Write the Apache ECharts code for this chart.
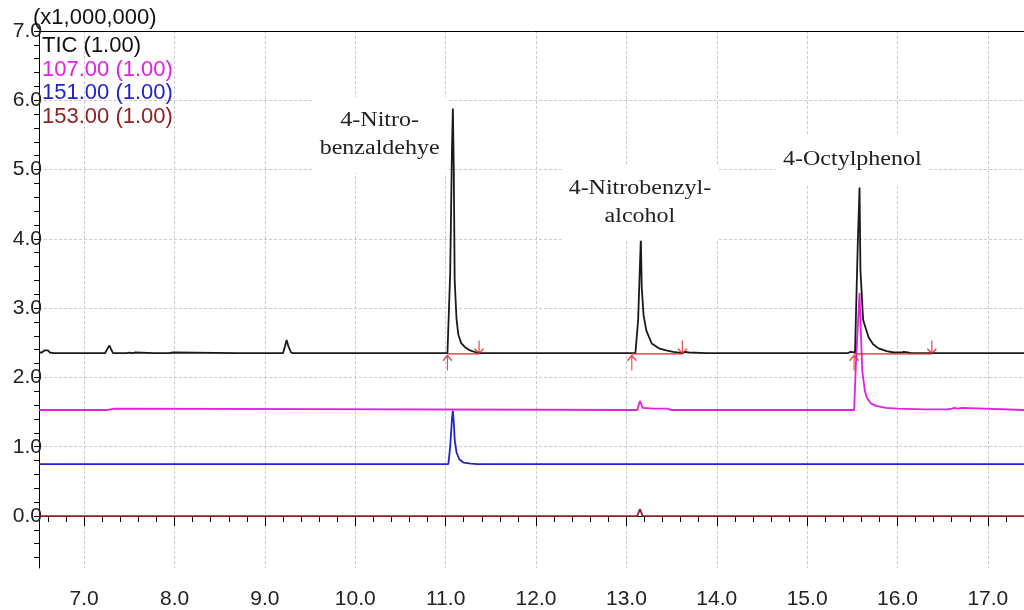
<!DOCTYPE html>
<html>
<head>
<meta charset="utf-8">
<script src="https://cdn.jsdelivr.net/npm/echarts@6.0.0/dist/echarts.min.js"></script>
<style>
html, body { margin: 0; padding: 0; background: #fff; }
#chart { width: 1024px; height: 610px; }
</style>
</head>
<body>
<div id="chart"></div>
<script>
// retention time (min), intensity (x1,000,000) with offset baselines
const ticTrace = [
  [6.5, 2.36], [6.53, 2.36], [6.56, 2.39], [6.58, 2.37], [6.6, 2.39], [6.62, 2.36], [6.64, 2.38], [6.66, 2.35],
  [6.98, 2.35], [7.0, 2.37], [7.02, 2.35],
  [7.23, 2.35], [7.26, 2.42], [7.28, 2.46], [7.3, 2.4], [7.32, 2.35],
  [7.44, 2.35], [7.45, 2.37], [7.47, 2.35], [7.5, 2.36], [7.53, 2.35], [7.56, 2.36], [7.58, 2.35],
  [7.78, 2.35], [7.8, 2.37], [7.82, 2.35], [7.94, 2.35], [7.96, 2.37], [7.98, 2.36], [8.0, 2.35],
  [8.7, 2.35], [8.72, 2.36], [8.74, 2.35],
  [9.2, 2.35], [9.22, 2.44], [9.24, 2.54], [9.26, 2.45], [9.29, 2.36], [9.32, 2.35],
  [10.41, 2.35], [10.43, 2.37], [10.45, 2.35],
  [11.02, 2.35], [11.05, 3.5], [11.07, 5.3], [11.08, 5.88], [11.09, 5.0], [11.1, 3.4], [11.12, 2.85],
  [11.14, 2.62], [11.17, 2.5], [11.21, 2.44], [11.27, 2.39], [11.34, 2.36], [11.4, 2.35],
  [11.56, 2.35], [11.58, 2.37], [11.6, 2.35],
  [13.1, 2.35], [13.13, 2.83], [13.16, 4.01], [13.17, 3.3], [13.19, 2.9], [13.22, 2.68], [13.28, 2.49],
  [13.36, 2.42], [13.44, 2.39], [13.52, 2.37], [13.62, 2.35], [13.65, 2.37], [13.67, 2.35], [13.69, 2.36], [13.71, 2.35],
  [13.89, 2.35], [13.91, 2.37], [13.93, 2.35],
  [15.45, 2.35], [15.48, 2.37], [15.5, 2.35], [15.53, 2.36], [15.56, 3.9], [15.58, 4.74], [15.59, 3.55],
  [15.62, 2.83], [15.68, 2.58], [15.73, 2.48], [15.79, 2.42], [15.88, 2.38], [15.96, 2.36], [16.04, 2.36],
  [16.07, 2.37], [16.09, 2.35], [16.12, 2.36], [16.15, 2.35],
  [17.4, 2.35],
]
const mz107 = [
  [6.5, 1.53], [7.24, 1.53], [7.25, 1.55], [7.34, 1.55], [7.35, 1.53],
  [13.12, 1.53], [13.15, 1.66], [13.18, 1.56], [13.3, 1.55], [13.45, 1.55], [13.47, 1.54], [13.5, 1.53],
  [15.52, 1.53], [15.54, 2.2], [15.58, 3.22], [15.59, 2.83], [15.61, 2.1], [15.64, 1.8], [15.66, 1.71],
  [15.7, 1.63], [15.76, 1.59], [15.87, 1.56], [16.0, 1.55], [16.3, 1.54], [16.55, 1.54], [16.57, 1.56],
  [16.6, 1.55], [16.63, 1.56], [16.67, 1.55], [16.71, 1.56], [16.73, 1.54], [17.4, 1.53],
]
const mz151 = [
  [6.5, 0.75], [11.03, 0.75], [11.05, 1.0], [11.07, 1.4], [11.08, 1.52], [11.09, 1.35], [11.1, 1.1],
  [11.12, 0.92], [11.15, 0.82], [11.2, 0.77], [11.28, 0.755], [11.35, 0.75], [17.4, 0.75],
]
const mz153 = [
  [6.5, 0], [13.12, 0], [13.15, 0.1], [13.18, 0], [17.4, 0],
]

// integration marks on TIC
const peakStart = [11.02, 13.06, 15.52]
const peakEnd = [11.37, 13.62, 16.38]
const ticBase = 2.34

// peak names: time, height, text
const annotations = [
  [10.27, 5.5, '4-Nitro-\nbenzaldehye'],
  [13.15, 4.52, '4-Nitrobenzyl-\nalcohol'],
  [15.5, 5.14, '4-Octylphenol'],
]

const legendLines = ['(x1,000,000)', 'TIC (1.00)', '107.00 (1.00)', '151.00 (1.00)', '153.00 (1.00)']

const xLabels = [7, 8, 9, 10, 11, 12, 13, 14, 15, 16, 17]
const yLabels = [0, 1, 2, 3, 4, 5, 6, 7]

const colors = {
  tic: '#1a1a1a',
  m107: '#e41ee4',
  m151: '#2222d0',
  m153: '#8e2222',
  integ: '#e02424',
}

const minorX = []
for (let i = 66; i <= 174; i += 2) minorX.push(i / 10)
const minorY = []
for (let i = -6; i <= 70; i += 2) minorY.push(i / 10)

const sansFont = '"Liberation Sans", Arial, sans-serif'
const serifFont = '"Liberation Serif", "Times New Roman", serif'

const chart = echarts.init(document.getElementById('chart'))

const traceSeries = (name, data, color) => ({
  name,
  type: 'line',
  data,
  symbol: 'none',
  showSymbol: false,
  lineStyle: { width: 1.8, color },
  z: 3,
})

const integLines = peakStart.map((s, i) => ({
  type: 'line',
  data: [[s, ticBase], [peakEnd[i], ticBase]],
  symbol: 'none',
  lineStyle: { width: 1.3, color: colors.integ },
  z: 4,
}))

const option = {
  animation: false,
  grid: { left: 39, right: 0, top: 31, bottom: 42 },
  xAxis: [
    {
      type: 'value',
      min: 6.5,
      max: 17.4,
      axisLine: { show: true, lineStyle: { color: '#000', width: 1 } },
      axisTick: { show: true, length: 10, customValues: xLabels, lineStyle: { color: '#000' } },
      axisLabel: {
        customValues: xLabels,
        formatter: (v) => v.toFixed(1),
        fontSize: 21,
        fontFamily: sansFont,
        color: '#222',
        margin: 21,
      },
      splitLine: { show: true, lineStyle: { color: '#cccccc', type: [3, 2], width: 1 } },
    },
    {
      type: 'value',
      min: 6.5,
      max: 17.4,
      position: 'bottom',
      axisLine: { show: false },
      axisTick: { show: true, length: 6, customValues: minorX, lineStyle: { color: '#000' } },
      axisLabel: { show: false },
      splitLine: { show: false },
    },
    {
      // top border line
      type: 'value',
      min: 6.5,
      max: 17.4,
      position: 'top',
      axisLine: { show: true, lineStyle: { color: '#000', width: 1 } },
      axisTick: { show: false },
      axisLabel: { show: false },
      splitLine: { show: false },
    },
  ],
  yAxis: [
    {
      type: 'value',
      min: -0.75,
      max: 7,
      axisLine: { show: true, lineStyle: { color: '#000', width: 1 } },
      axisTick: { show: true, length: 5, customValues: yLabels, lineStyle: { color: '#000' } },
      axisLabel: {
        customValues: yLabels,
        formatter: (v) => v.toFixed(1),
        fontSize: 21,
        fontFamily: sansFont,
        color: '#222',
        margin: -3,
        padding: [8, 0, 0, 0],
      },
      splitLine: { show: true, lineStyle: { color: '#cccccc', type: [3, 2], width: 1 } },
    },
    {
      type: 'value',
      min: -0.75,
      max: 7,
      position: 'left',
      axisLine: { show: false },
      axisTick: { show: true, length: 5, customValues: minorY, lineStyle: { color: '#000' } },
      axisLabel: { show: false },
      splitLine: { show: false },
    },
  ],
  series: [
    traceSeries('153.00', mz153, colors.m153),
    traceSeries('151.00', mz151, colors.m151),
    traceSeries('107.00', mz107, colors.m107),
    traceSeries('TIC', ticTrace, colors.tic),
    ...integLines,
    {
      // start arrows (up)
      type: 'scatter',
      data: peakStart.map((s) => [s, ticBase - 0.13]),
      symbol: 'path://M5,0 L5,14 M1,5 L5,0 L9,5',
      symbolSize: [9, 15],
      itemStyle: { color: 'rgba(0,0,0,0)', borderColor: colors.integ, borderWidth: 1.5 },
      z: 5,
    },
    {
      // end arrows (down)
      type: 'scatter',
      data: peakEnd.map((e) => [e, ticBase + 0.1]),
      symbol: 'path://M5,0 L5,14 M1,9 L5,14 L9,9',
      symbolSize: [9, 13],
      itemStyle: { color: 'rgba(0,0,0,0)', borderColor: colors.integ, borderWidth: 1.5 },
      z: 5,
    },
  ],
}

chart.setOption(option)

// legend block top-left
const legendColors = ['#111', '#111', colors.m107, colors.m151, colors.m153]
const legendPos = [[33, 18], [42, 46], [42, 69.5], [42, 93], [42, 116.5]]
const legendGraphics = legendLines.map((t, i) => ({
  type: 'text',
  x: legendPos[i][0],
  y: legendPos[i][1],
  z: 60,
  style: {
    text: t,
    fill: legendColors[i],
    font: '22px ' + sansFont,
    verticalAlign: 'middle',
  },
}))

// peak names placed from data coordinates
const annGraphics = annotations.map((a) => {
  const p = chart.convertToPixel({ gridIndex: 0 }, [a[0], a[1]])
  return {
    type: 'text',
    x: p[0],
    y: p[1],
    scaleX: 1.2,
    z: 50,
    style: {
      text: a[2],
      fill: '#222',
      font: '20px ' + serifFont,
      align: 'center',
      verticalAlign: 'middle',
      lineHeight: 28,
      backgroundColor: '#fff',
      padding: [10, 6],
    },
  }
})

chart.setOption({ graphic: legendGraphics.concat(annGraphics) })
</script>
</body>
</html>
